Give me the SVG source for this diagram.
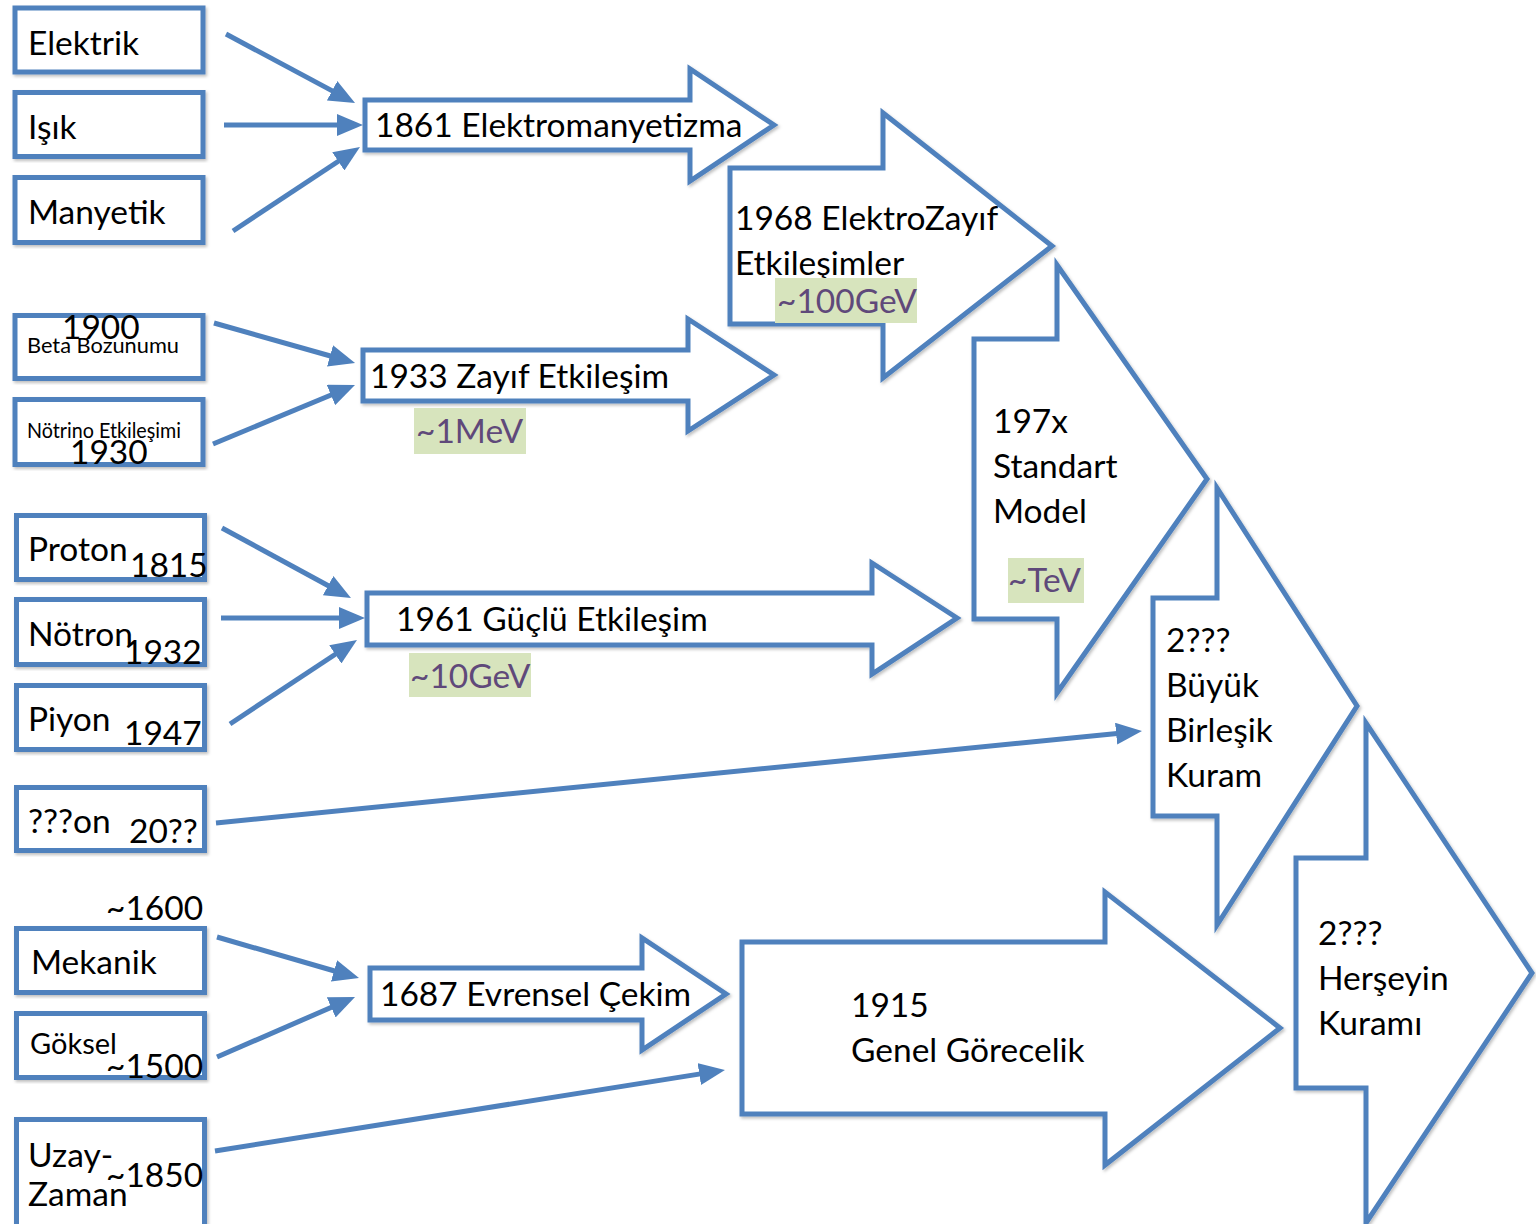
<svg xmlns="http://www.w3.org/2000/svg" width="1536" height="1224" viewBox="0 0 1536 1224">
<style>
.box{fill:#fff;stroke:#4F81BD;stroke-width:5;filter:url(#sh)}
.arw{fill:#fff;stroke:#4F81BD;stroke-width:5;stroke-linejoin:miter;filter:url(#sh)}
.con{stroke:#4F81BD;stroke-width:5;fill:none;marker-end:url(#ah)}
text{font-family:Lato,"Open Sans","Liberation Sans",sans-serif;fill:#000;font-size:33.5px}
.sm{font-size:20.5px}
.md{font-size:29px}
.hl{fill:#D7E4BD}
.en{fill:#5F497A}
</style>
<defs>
<filter id="sh" x="-10%" y="-10%" width="120%" height="120%">
<feDropShadow dx="1.5" dy="2" stdDeviation="1.5" flood-color="#000" flood-opacity="0.25"/>
</filter>
<marker id="ah" viewBox="0 0 26 22" markerWidth="26" markerHeight="22" markerUnits="userSpaceOnUse" refX="6" refY="11" orient="auto">
<path d="M0,0 L26,11 L0,22 z" fill="#4F81BD"/>
</marker>
</defs>

<g id="n-elektrik"><rect class="box" x="15" y="8" width="188" height="64"/><text x="28" y="55">Elektrik</text></g>
<g id="n-isik"><rect class="box" x="15" y="92.5" width="188" height="64"/><text x="28" y="139">Işık</text></g>
<g id="n-manyetik"><rect class="box" x="15" y="177.5" width="188" height="65"/><text x="28" y="224">Manyetik</text></g>
<g id="n-beta"><rect class="box" x="15" y="315.5" width="188" height="63"/><text class="sm" x="27" y="353" textLength="152" lengthAdjust="spacingAndGlyphs">Beta Bozunumu</text><text x="62" y="339">1900</text></g>
<g id="n-notrino"><rect class="box" x="15" y="399.5" width="188" height="65"/><text class="sm" x="27" y="438" textLength="154" lengthAdjust="spacingAndGlyphs">Nötrino Etkileşimi</text><text x="70" y="464">1930</text></g>
<g id="n-proton"><rect class="box" x="16.5" y="515.5" width="188" height="64"/><text x="28" y="561">Proton</text><text x="130" y="577">1815</text></g>
<g id="n-notron"><rect class="box" x="16.5" y="599.5" width="188" height="65"/><text x="28" y="646">Nötron</text><text x="124" y="664">1932</text></g>
<g id="n-piyon"><rect class="box" x="16.5" y="685.5" width="188" height="64"/><text x="28" y="731">Piyon</text><text x="124" y="745">1947</text></g>
<g id="n-qon"><rect class="box" x="16.5" y="787.5" width="188" height="63"/><text x="28" y="833">???on</text><text x="129" y="843">20??</text></g>
<g id="n-mekanik"><text x="106" y="920">~1600</text><rect class="box" x="16.5" y="928.5" width="188" height="64"/><text x="31" y="974">Mekanik</text></g>
<g id="n-goksel"><rect class="box" x="16.5" y="1013.5" width="188" height="64"/><text class="md" x="30" y="1054">Göksel</text><text x="106" y="1078">~1500</text></g>
<g id="n-uzay"><rect class="box" x="16.5" y="1119.5" width="188" height="110"/><text x="28" y="1167">Uzay-</text><text x="28" y="1206">Zaman</text><text x="106" y="1187">~1850</text></g>

<g id="n-1861"><polygon class="arw" points="365,100 690,100 690,69 774,125 690,181 690,150 365,150"/><text x="375" y="137">1861 Elektromanyetizma</text></g>
<g id="n-1933"><polygon class="arw" points="363,350 688,350 688,319 774,375 688,431 688,401 363,401"/><text x="370" y="388">1933 Zayıf Etkileşim</text><rect class="hl" x="414" y="408" width="112" height="46"/><text class="en" x="416" y="443">~1MeV</text></g>
<g id="n-1961"><polygon class="arw" points="367,593 872,593 872,563 957,618 872,674 872,645 367,645"/><text x="396" y="631">1961 Güçlü Etkileşim</text><rect class="hl" x="409" y="653" width="122" height="44"/><text class="en" x="410" y="688">~10GeV</text></g>
<g id="n-1687"><polygon class="arw" points="370,968 642,968 642,938 726,994 642,1050 642,1020 370,1020"/><text x="380" y="1006">1687 Evrensel Çekim</text></g>
<g id="n-1968"><polygon class="arw" points="730,168 883,168 883,113 1052,246 883,378 883,324 730,324"/><text x="735" y="230">1968 ElektroZayıf</text><text x="735" y="275">Etkileşimler</text><rect class="hl" x="775" y="278" width="142" height="45"/><text class="en" x="777" y="313">~100GeV</text></g>
<g id="n-197x"><polygon class="arw" points="974,339 1057,339 1057,265 1207,479 1057,693 1057,619 974,619"/><text x="993" y="433">197x</text><text x="993" y="478">Standart</text><text x="993" y="523">Model</text><rect class="hl" x="1008" y="558" width="76" height="45"/><text class="en" x="1008" y="592">~TeV</text></g>
<g id="n-buk"><polygon class="arw" points="1153,598 1217,598 1217,488 1357,706 1217,925 1217,816 1153,816"/><text x="1166" y="652">2???</text><text x="1166" y="697">Büyük</text><text x="1166" y="742">Birleşik</text><text x="1166" y="787">Kuram</text></g>
<g id="n-1915"><polygon class="arw" points="742,942 1105,942 1105,892 1280,1028 1105,1165 1105,1114 742,1114"/><text x="851" y="1017">1915</text><text x="851" y="1062">Genel Görecelik</text></g>
<g id="n-toe"><polygon class="arw" points="1296,858 1366,858 1366,723 1532,973 1366,1223 1366,1088 1296,1088"/><text x="1318" y="945">2???</text><text x="1318" y="990">Herşeyin</text><text x="1318" y="1035">Kuramı</text></g>

<g id="connectors">
<line class="con" x1="226" y1="34" x2="337.4" y2="93.6"/>
<line class="con" x1="224" y1="125" x2="343" y2="125"/>
<line class="con" x1="233" y1="231" x2="343.3" y2="158"/>
<line class="con" x1="214" y1="323" x2="335.8" y2="357.5"/>
<line class="con" x1="213" y1="444" x2="336.5" y2="392.7"/>
<line class="con" x1="222" y1="528" x2="333.4" y2="588.5"/>
<line class="con" x1="221" y1="618" x2="345" y2="618"/>
<line class="con" x1="230" y1="724" x2="340.3" y2="651"/>
<line class="con" x1="216" y1="823" x2="1122.1" y2="733"/>
<line class="con" x1="217" y1="937" x2="339.8" y2="972.5"/>
<line class="con" x1="217" y1="1057" x2="336.7" y2="1005"/>
<line class="con" x1="215" y1="1151" x2="705.2" y2="1073.1"/>
</g>
</svg>
